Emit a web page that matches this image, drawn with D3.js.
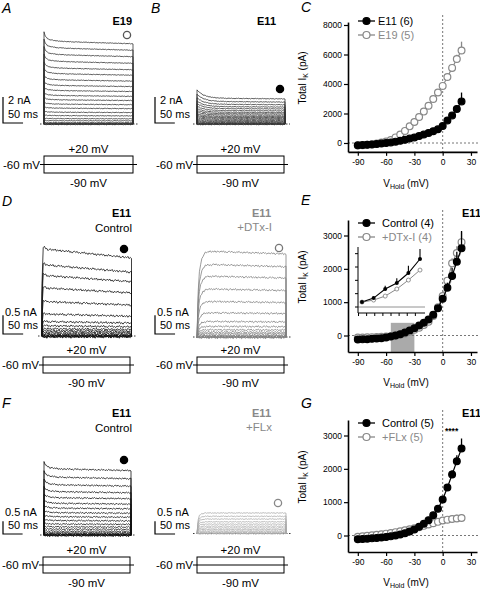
<!DOCTYPE html>
<html><head><meta charset="utf-8">
<script src="https://cdn.jsdelivr.net/npm/d3@7"></script>
<style>
body{margin:0;background:#fff}
svg{display:block}
text{font-family:"Liberation Sans",Arial,Helvetica,sans-serif}
</style>
</head><body>
<svg id="fig" width="480" height="589"></svg>
<script>
// ---------------- DATA ----------------
const voltages = [-90,-85,-80,-75,-70,-65,-60,-55,-50,-45,-40,-35,-30,-25,-20,-15,-10,-5,0,5,10,15,20];
const xTicks = [-90,-60,-30,0,30];
const cYTicks = [0,2000,4000,6000,8000];
const egYTicks = [0,1000,2000,3000];

// Panel C: total IK (pA)
const cE11 = [-160,-140,-120,-100,-70,-40,0,40,90,150,220,300,380,470,570,680,800,930,1150,1530,1870,2310,2820];
const cE11Err = [0,0,0,0,0,0,0,0,0,0,0,0,0,0,0,0,0,40,60,100,150,250,600];
const cE19 = [-170,-150,-120,-80,-30,30,100,200,380,580,820,1130,1420,1760,2130,2530,2980,3420,3870,4470,5090,5690,6270];
const cE19Err = [0,0,0,0,0,0,0,0,0,0,0,0,0,0,0,0,0,80,120,150,200,300,600];

// Panel E: control vs +DTx-I
const eControl = [-120,-115,-110,-100,-90,-80,-60,-30,0,40,90,150,220,300,380,480,620,820,1100,1435,1785,2215,2615];
const eControlErr = [0,0,0,0,0,0,0,0,0,0,0,0,0,0,0,0,0,60,100,150,250,300,520];
const eDTx = [-60,-60,-55,-50,-45,-40,-30,-20,0,20,60,110,170,235,315,415,585,850,1185,1645,2165,2475,2800];
const eDTxErr = [0,0,0,0,0,0,0,0,0,0,0,0,0,0,0,0,0,50,80,100,150,200,300];
const eShadeV = [-55,-30];
const eShadeI = [-495,380];
// inset of E (zoomed -55..-30 mV)
const insetV = [-55,-50,-45,-40,-35,-30];
const insetControl = [37,67,135,180,255,360];
const insetControlErr = [0,10,25,35,55,75];
const insetDTx = [37,52,82,135,202,277];
const insetYTicks = [0,100,200,300,400];
const insetXTicks = [-56.5,-53,-49.5,-46,-42.5,-39,-35.5,-32];

// Panel G: control vs +FLx
const gControl = [-110,-105,-95,-85,-75,-60,-45,-25,0,30,70,120,180,260,350,460,610,800,1080,1440,1830,2230,2610];
const gControlErr = [0,0,0,0,0,0,0,0,0,0,0,0,0,0,0,0,40,60,80,100,130,180,300];
const gFLx = [-40,-25,-10,5,20,35,55,75,100,125,155,185,215,250,290,330,370,410,450,475,495,510,525];
const gFLxErr = [0,0,0,0,0,0,0,0,0,0,0,0,40,50,60,70,80,90,100,110,110,110,120];

// Current traces: steady amplitudes of each sweep (nA)
const tracesA_E19 = [6.33,5.82,5.31,4.79,4.28,3.85,3.38,2.95,2.56,2.18,1.85,1.52,1.21,0.90,0.64,0.41,0.25,0.10,0.05,0.02,0.0,-0.02,-0.04];
const tracesB_E11 = [1.97,1.72,1.51,1.33,1.18,1.03,0.90,0.79,0.69,0.59,0.51,0.44,0.36,0.28,0.21,0.15,0.10,0.05,0.02,0.0,-0.02,-0.04];
const tracesD_Control = [2.30,1.88,1.60,1.27,0.91,0.58,0.38,0.27,0.19,0.14,0.10,0.06,0.03,0.01,0.0,-0.01,-0.02,-0.03];
const tracesD_DTx = [2.27,1.92,1.61,1.27,0.94,0.64,0.41,0.28,0.19,0.13,0.09,0.05,0.03,0.01,0.0,-0.01,-0.02];
const tracesF_Control = [2.61,2.28,1.98,1.71,1.47,1.25,1.06,0.88,0.72,0.57,0.43,0.32,0.23,0.15,0.09,0.05,0.03,0.01,0.0,-0.01,-0.02,-0.03];
const tracesF_FLx = [0.81,0.68,0.57,0.46,0.37,0.29,0.22,0.16,0.10,0.06,0.02,0.01,0.0,-0.01];

// time course of sweeps (ms -> fraction of steady amplitude)
const shapeA_t = [0,3,10,30,60,120,222];
const shapeA_f = [1.12,1.07,1.03,1.01,1.0,0.99,0.975];
const shapeB_t = [0,5,15,30,50,80,222];
const shapeB_f = [1.33,1.25,1.14,1.06,1.02,1.0,0.98];
const shapeDc_t = [0,1.5,4,12,222];
const shapeDc_f = [0.6,1.02,1.03,1.0,0.9];
const shapeDd_t = [0,2,5,10,15,22,40,222];
const shapeDd_f = [0,0.45,0.72,0.88,0.95,0.99,1.0,0.97];
const shapeFc_t = [0,1,5,15,40,222];
const shapeFc_f = [1.11,1.09,1.05,1.02,1.0,0.975];
const shapeFf_t = [0,2,5,10,20,222];
const shapeFf_f = [0,0.6,0.85,0.95,1.0,1.0];
// recorded noise pattern (normalised)
const wiggle = [0.2,-0.5,0.8,-0.3,0.6,-0.9,0.1,0.7,-0.6,0.4,-0.2,0.9,-0.7,0.3,-0.4,0.6,-0.8,0.5,0.0,-0.5,0.7,-0.3,0.9,-0.6,0.2,-0.9,0.4,0.6,-0.2,0.8,-0.5,0.1,-0.7,0.5,-0.1,0.9,-0.4,0.3,-0.8,0.6,-0.3,0.2,0.7,-0.6,0.4,-0.9,0.5,0.1,-0.4,0.8,-0.2,0.6,-0.7,0.3,-0.5,0.9,-0.1,0.4,-0.6,0.2];
const sweepMs = 222;

// ---------------- DRAWING ----------------
const svg = d3.select('#fig');
svg.append('rect').attr('width',480).attr('height',589).attr('fill','#fff');

function txt(g, x, y, s, o = {}) {
  return g.append('text').attr('x', x).attr('y', y).text(s)
    .attr('font-size', o.size || 11)
    .attr('font-weight', o.bold ? 'bold' : null)
    .attr('font-style', o.italic ? 'italic' : null)
    .attr('text-anchor', o.anchor || 'start')
    .attr('fill', o.color || '#000');
}

// panel letters
[['A',2,13],['B',151,13],['C',301,12],['D',2,206],['E',301,205],['F',2,408],['G',301,408]]
  .forEach(([l,x,y]) => txt(svg, x, y, l, {size:14, italic:true}));

function drawTraces(c) {
  const g = svg.append('g');
  const x = d3.scaleLinear().domain([0, sweepMs]).range([c.x0, c.x1]);
  const y = d3.scaleLinear().domain([0, 1]).range([c.base, c.base - c.pxPerNA]);
  const shape = d3.scaleLinear().domain(c.shapeT).range(c.shapeF).clamp(true);
  const times = d3.range(0, sweepMs + 0.001, c.step || 3);
  const line = d3.line().x(d => x(d[0])).y(d => y(d[1]));
  // dotted zero line
  g.append('line').attr('x1', c.x0 - 4).attr('x2', c.x1 + 5).attr('y1', c.base).attr('y2', c.base)
    .attr('stroke', '#222').attr('stroke-width', 0.9).attr('stroke-dasharray', '1.5,1.5');
  c.amps.forEach((a, k) => {
    const pts = [[0, 0]];
    times.forEach((t, i) => {
      const w = wiggle[(i + k * 13) % wiggle.length];
      pts.push([t, a * shape(t) + c.noise * w]);
    });
    pts.push([sweepMs, 0]);
    g.append('path').attr('d', line(pts)).attr('fill', 'none')
      .attr('stroke', c.color).attr('stroke-width', c.sw || 0.8);
  });
  // scale bar
  const sx = c.sbX, sy = c.sbY;
  const barH = c.sbNA * c.pxPerNA, barW = 50 * (c.x1 - c.x0) / sweepMs;
  g.append('path').attr('d', `M${sx},${sy - barH}V${sy}H${sx + barW}`)
    .attr('fill', 'none').attr('stroke', '#000').attr('stroke-width', 1.2);
  txt(g, sx + c.sbTx, c.sbT1, c.sbLabel);
  txt(g, sx + 5, c.sbT2, '50 ms');
}

function protocol(c) {
  const g = svg.append('g');
  g.append('rect').attr('x', c.bx0).attr('y', c.by0).attr('width', c.bx1 - c.bx0).attr('height', c.by1 - c.by0)
    .attr('fill', 'none').attr('stroke', '#000').attr('stroke-width', 1);
  const ly = (c.by0 + c.by1) / 2;
  g.append('line').attr('x1', c.bx0 - 4).attr('x2', c.bx1 + 4).attr('y1', ly).attr('y2', ly)
    .attr('stroke', '#000').attr('stroke-width', 1);
  const cx = (c.bx0 + c.bx1) / 2;
  txt(g, cx, c.by0 - 3, '+20 mV', {anchor:'middle', size:11.5});
  txt(g, cx, c.by1 + 14, '-90 mV', {anchor:'middle', size:11.5});
  txt(g, c.bx0 - 4, ly + 4, '-60 mV', {anchor:'end', size:11.5});
}

function marker(x, y, filled, color) {
  svg.append('circle').attr('cx', x).attr('cy', y).attr('r', 3.6)
    .attr('fill', filled ? color : '#fff').attr('stroke', color).attr('stroke-width', 1.3);
}

// ---- Panel A ----
drawTraces({x0:44, x1:133, base:124, pxPerNA:13, amps:tracesA_E19, shapeT:shapeA_t, shapeF:shapeA_f,
  noise:0.03, color:'#333', sbX:3, sbY:123, sbNA:2, sbLabel:'2 nA', sbTx:5, sbT1:104, sbT2:118});
txt(svg, 132, 25, 'E19', {bold:true, anchor:'end'});
marker(127, 35, false, '#555');
protocol({bx0:44, bx1:133, by0:156, by1:173});

// ---- Panel B ----
drawTraces({x0:197, x1:285, base:124, pxPerNA:13, amps:tracesB_E11, shapeT:shapeB_t, shapeF:shapeB_f,
  noise:0.03, color:'#333', sbX:155, sbY:123, sbNA:2, sbLabel:'2 nA', sbTx:5, sbT1:104, sbT2:118});
txt(svg, 276, 25, 'E11', {bold:true, anchor:'end'});
marker(280, 89, true, '#000');
protocol({bx0:197, bx1:284, by0:156, by1:173});

// ---- Panel D ----
drawTraces({x0:42, x1:131.5, base:336, pxPerNA:37.7, amps:tracesD_Control, shapeT:shapeDc_t, shapeF:shapeDc_f,
  noise:0.035, color:'#111', sbX:3, sbY:334, sbNA:0.5, sbLabel:'0.5 nA', sbTx:2, sbT1:316, sbT2:329});
txt(svg, 131, 217, 'E11', {bold:true, anchor:'end'});
txt(svg, 132, 232, 'Control', {anchor:'end', size:11.5});
marker(124, 249, true, '#000');
protocol({bx0:43, bx1:130, by0:357, by1:373});

drawTraces({x0:197, x1:286, base:337, pxPerNA:37.7, amps:tracesD_DTx, shapeT:shapeDd_t, shapeF:shapeDd_f,
  noise:0.03, color:'#808080', sbX:155, sbY:334, sbNA:0.5, sbLabel:'0.5 nA', sbTx:2, sbT1:316, sbT2:329});
txt(svg, 271, 217, 'E11', {bold:true, anchor:'end', color:'#888'});
txt(svg, 272, 231, '+DTx-I', {anchor:'end', size:11.5, color:'#888'});
marker(279, 248, false, '#777');
protocol({bx0:197, bx1:284, by0:357, by1:373});

// ---- Panel F ----
drawTraces({x0:44, x1:131, base:535, pxPerNA:25.3, amps:tracesF_Control, shapeT:shapeFc_t, shapeF:shapeFc_f,
  noise:0.035, color:'#111', sbX:3, sbY:534, sbNA:0.5, sbLabel:'0.5 nA', sbTx:2, sbT1:516, sbT2:529});
txt(svg, 131, 417, 'E11', {bold:true, anchor:'end'});
txt(svg, 132, 432, 'Control', {anchor:'end', size:11.5});
marker(124, 460, true, '#000');
protocol({bx0:43, bx1:130, by0:557, by1:573});

drawTraces({x0:197, x1:286, base:533.5, pxPerNA:25.3, amps:tracesF_FLx, shapeT:shapeFf_t, shapeF:shapeFf_f,
  noise:0.02, color:'#aaa', sbX:155, sbY:534, sbNA:0.5, sbLabel:'0.5 nA', sbTx:2, sbT1:516, sbT2:529});
txt(svg, 271, 417, 'E11', {bold:true, anchor:'end', color:'#888'});
txt(svg, 272, 431, '+FLx', {anchor:'end', size:11.5, color:'#888'});
marker(278, 503, false, '#888');
protocol({bx0:197, bx1:284, by0:557, by1:573});

// ---------------- I-V plots ----------------
const xIV = d3.scaleLinear().domain([-100.4, 36.4]).range([348, 477]);

function ivPlot(c) {
  const g = svg.append('g');
  const y = d3.scaleLinear().domain(c.yDom).range(c.yRange);
  const x = xIV;
  if (c.shade) {
    g.append('rect').attr('x', x(c.shade[0][0])).attr('width', x(c.shade[0][1]) - x(c.shade[0][0]))
      .attr('y', y(c.shade[1][1])).attr('height', y(c.shade[1][0]) - y(c.shade[1][1]))
      .attr('fill', '#aaa');
  }
  const dash = '2,2';
  g.append('line').attr('x1', x(0)).attr('x2', x(0)).attr('y1', c.dashTop).attr('y2', c.yRange[0])
    .attr('stroke', '#777').attr('stroke-width', 1).attr('stroke-dasharray', dash);
  g.append('line').attr('x1', 348).attr('x2', 480).attr('y1', y(0)).attr('y2', y(0))
    .attr('stroke', '#777').attr('stroke-width', 1).attr('stroke-dasharray', dash);

  const fmt = d => String(d);
  const ay = g.append('g').attr('transform', 'translate(348,0)')
    .call(d3.axisLeft(y).tickValues(c.yTicks).tickFormat(fmt).tickSize(4).tickSizeOuter(0).tickPadding(2));
  const ax = g.append('g').attr('transform', `translate(0,${c.yRange[0]})`)
    .call(d3.axisBottom(x).tickValues(xTicks).tickFormat(fmt).tickSize(4).tickSizeOuter(0).tickPadding(3));
  [ay, ax].forEach(a => {
    a.select('.domain').attr('stroke-width', 1.6);
    a.selectAll('.tick line').attr('stroke-width', 1.2);
    a.selectAll('text').attr('font-size', 8.5).attr('font-family', '"Liberation Sans",Arial,sans-serif');
  });

  const line = d3.line().x((d, i) => x(voltages[i])).y(d => y(d));
  c.series.forEach(s => {
    const col = s.filled ? '#000' : '#888';
    g.append('path').attr('d', line(s.values)).attr('fill', 'none').attr('stroke', col).attr('stroke-width', 1.2);
    s.values.forEach((v, i) => {
      if (s.err[i] > 0) g.append('line').attr('x1', x(voltages[i])).attr('x2', x(voltages[i]))
        .attr('y1', y(v)).attr('y2', y(v + s.err[i])).attr('stroke', col).attr('stroke-width', 1.3);
    });
    s.values.forEach((v, i) => {
      g.append('circle').attr('cx', x(voltages[i])).attr('cy', y(v)).attr('r', 3.4)
        .attr('fill', s.filled ? '#000' : '#fff').attr('stroke', col).attr('stroke-width', 1.2);
    });
  });
  // legend
  c.series.slice().reverse().forEach((s, k) => {
    const ly = c.legY + k * 14;
    const col = s.filled ? '#000' : '#888';
    g.append('line').attr('x1', 358).attr('x2', 375).attr('y1', ly).attr('y2', ly).attr('stroke', col).attr('stroke-width', 1.3);
    g.append('circle').attr('cx', 366.5).attr('cy', ly).attr('r', 3.5)
      .attr('fill', s.filled ? '#000' : '#fff').attr('stroke', col).attr('stroke-width', 1.2);
    txt(g, c.legX, ly + 4, s.label, {size:11, color: s.filled ? '#000' : '#888'});
  });
  // axis titles
  const yt = g.append('text').attr('transform', `translate(306,${c.yTitleY}) rotate(-90)`)
    .attr('text-anchor', 'middle').attr('font-size', 10);
  yt.append('tspan').text('Total I');
  yt.append('tspan').text('K').attr('font-size', 7).attr('dy', 2);
  yt.append('tspan').text(' (pA)').attr('dy', -2);
  const xt = g.append('text').attr('x', 406).attr('y', c.xTitleY).attr('text-anchor', 'middle').attr('font-size', 10);
  xt.append('tspan').text('V');
  xt.append('tspan').text('Hold').attr('font-size', 7).attr('dy', 2);
  xt.append('tspan').text(' (mV)').attr('dy', -2);
  return {g, y};
}

ivPlot({yDom:[-600, 8200], yRange:[151.85, 22.05], yTicks:cYTicks, dashTop:15, legY:21, legX:378,
  yTitleY:78, xTitleY:187,
  series:[{values:cE19, err:cE19Err, filled:false, label:'E19 (5)'},
          {values:cE11, err:cE11Err, filled:true, label:'E11 (6)'}]});

ivPlot({yDom:[-495, 3465], yRange:[352, 220], yTicks:egYTicks, dashTop:210, legY:223, legX:382,
  yTitleY:277, xTitleY:386, shade:[eShadeV, eShadeI],
  series:[{values:eDTx, err:eDTxErr, filled:false, label:'+DTx-I (4)'},
          {values:eControl, err:eControlErr, filled:true, label:'Control (4)'}]});
txt(svg, 481, 217, 'E11', {bold:true, anchor:'end'});

// inset
(function(){
  const g = svg.append('g');
  const x = d3.scaleLinear().domain([-55, -30]).range([362, 420]);
  const y = d3.scaleLinear().domain([-45, 450]).range([313, 247]);
  g.append('line').attr('x1', 358).attr('x2', 425).attr('y1', y(0)).attr('y2', y(0))
    .attr('stroke', '#777').attr('stroke-width', 0.8);
  g.append('path').attr('d', 'M358,247V313H425').attr('fill', 'none').attr('stroke', '#000').attr('stroke-width', 1);
  insetYTicks.forEach(t => g.append('line').attr('x1', 355).attr('x2', 358).attr('y1', y(t)).attr('y2', y(t)).attr('stroke', '#000'));
  insetXTicks.forEach(t => g.append('line').attr('x1', x(t)).attr('x2', x(t)).attr('y1', 313).attr('y2', 316).attr('stroke', '#000'));
  const line = d3.line().x((d, i) => x(insetV[i])).y(d => y(d));
  g.append('path').attr('d', line(insetDTx)).attr('fill', 'none').attr('stroke', '#888').attr('stroke-width', 1);
  g.append('path').attr('d', line(insetControl)).attr('fill', 'none').attr('stroke', '#000').attr('stroke-width', 1.1);
  insetControl.forEach((v, i) => g.append('line').attr('x1', x(insetV[i])).attr('x2', x(insetV[i]))
    .attr('y1', y(v)).attr('y2', y(v + insetControlErr[i])).attr('stroke', '#000').attr('stroke-width', 1.1));
  insetDTx.forEach((v, i) => g.append('circle').attr('cx', x(insetV[i])).attr('cy', y(v)).attr('r', 2)
    .attr('fill', '#fff').attr('stroke', '#888').attr('stroke-width', 0.9));
  insetControl.forEach((v, i) => g.append('circle').attr('cx', x(insetV[i])).attr('cy', y(v)).attr('r', 2).attr('fill', '#000'));
})();

ivPlot({yDom:[-495, 3465], yRange:[552, 420], yTicks:egYTicks, dashTop:410, legY:423, legX:382,
  yTitleY:477, xTitleY:586,
  series:[{values:gFLx, err:gFLxErr, filled:false, label:'+FLx (5)'},
          {values:gControl, err:gControlErr, filled:true, label:'Control (5)'}]});
txt(svg, 481, 417, 'E11', {bold:true, anchor:'end'});
txt(svg, 445, 434, '****', {bold:true, size:8.5});
</script>
</body></html>
